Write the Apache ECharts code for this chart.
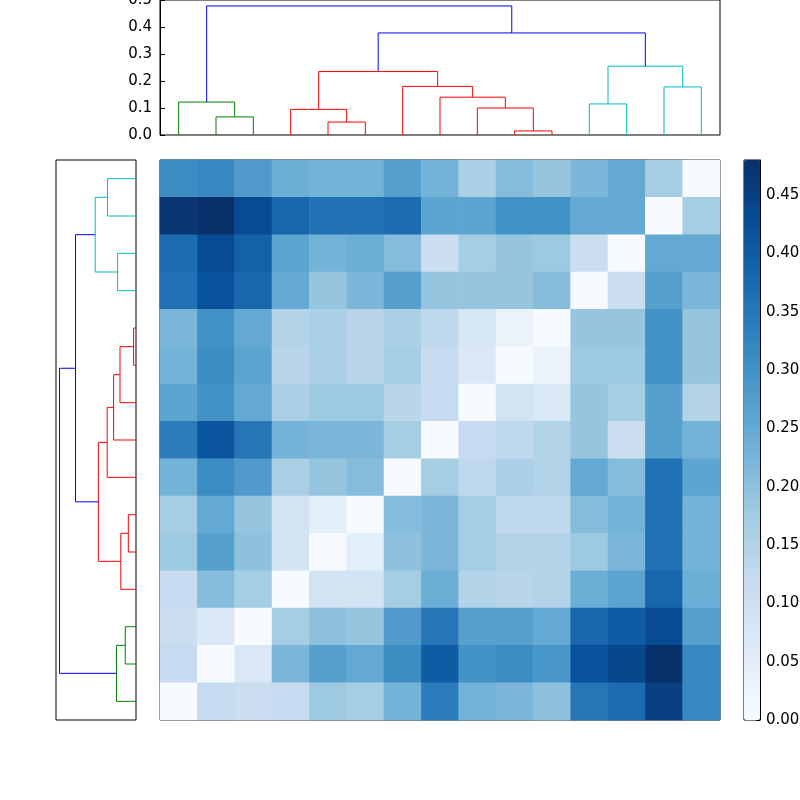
<!DOCTYPE html>
<html><head><meta charset="utf-8">
<script src="https://cdn.jsdelivr.net/npm/echarts@6/dist/echarts.min.js"></script>
<style>html,body{margin:0;padding:0;background:#fff}#c{width:800px;height:800px}</style>
</head><body><div id="c"></div>
<script>
const matrix = [
[0.31,0.32,0.28,0.24,0.23,0.23,0.27,0.23,0.16,0.21,0.19,0.22,0.25,0.17,0.00],
[0.47,0.48,0.43,0.38,0.36,0.36,0.37,0.26,0.26,0.30,0.30,0.25,0.25,0.00,0.17],
[0.37,0.43,0.39,0.26,0.23,0.24,0.21,0.11,0.17,0.19,0.18,0.11,0.00,0.25,0.25],
[0.36,0.42,0.38,0.25,0.19,0.22,0.27,0.19,0.19,0.19,0.21,0.00,0.11,0.27,0.22],
[0.22,0.30,0.25,0.15,0.16,0.14,0.16,0.13,0.08,0.03,0.00,0.19,0.19,0.30,0.19],
[0.23,0.31,0.26,0.14,0.16,0.14,0.17,0.12,0.07,0.00,0.03,0.18,0.18,0.30,0.19],
[0.26,0.30,0.25,0.16,0.18,0.18,0.14,0.12,0.00,0.09,0.07,0.19,0.17,0.27,0.15],
[0.34,0.41,0.35,0.23,0.22,0.22,0.17,0.00,0.12,0.13,0.15,0.19,0.11,0.27,0.23],
[0.23,0.31,0.28,0.16,0.19,0.21,0.00,0.17,0.13,0.16,0.15,0.25,0.21,0.36,0.26],
[0.17,0.25,0.19,0.09,0.05,0.00,0.21,0.22,0.17,0.13,0.13,0.21,0.23,0.36,0.23],
[0.18,0.27,0.20,0.09,0.00,0.05,0.20,0.22,0.17,0.15,0.15,0.18,0.22,0.36,0.23],
[0.12,0.21,0.17,0.00,0.09,0.09,0.17,0.24,0.15,0.14,0.15,0.24,0.26,0.38,0.24],
[0.11,0.07,0.00,0.17,0.20,0.19,0.28,0.35,0.27,0.27,0.25,0.38,0.40,0.43,0.27],
[0.12,0.00,0.07,0.22,0.27,0.25,0.31,0.40,0.30,0.31,0.29,0.42,0.44,0.48,0.32],
[0.00,0.12,0.11,0.12,0.18,0.17,0.23,0.34,0.23,0.22,0.20,0.35,0.37,0.45,0.32]
];
// dendrogram links: [xLeft, xRight, hLeft, hRight, h, colorKey]  (x in leaf units)
const links = [
[1,2,0,0,0.067,'g'],[0,1.5,0,0.067,0.122,'g'],
[4,5,0,0,0.048,'r'],[3,4.5,0,0.048,0.095,'r'],[9,10,0,0,0.015,'r'],[8,9.5,0,0.015,0.10,'r'],
[7,8.75,0,0.10,0.14,'r'],[6,7.875,0,0.14,0.18,'r'],[3.75,6.9375,0.095,0.18,0.235,'r'],
[11,12,0,0,0.115,'c'],[13,14,0,0,0.178,'c'],[11.5,13.5,0.115,0.178,0.255,'c'],
[5.34375,12.5,0.235,0.255,0.378,'b'],[0.75,8.921875,0.122,0.378,0.478,'b']
];
const colorKeys = {g:'#008000',r:'#ff0000',c:'#00bfbf',b:'#0000ff'};
const n = matrix.length;
const cats = matrix.map((_,i)=>String(i));
const heat = [];
matrix.forEach((row,r)=>row.forEach((v,c)=>heat.push([c,r,v])));
const series = [];
links.forEach(l=>{
  const pts=[[l[0],l[2]],[l[0],l[4]],[l[1],l[4]],[l[1],l[3]]];
  series.push({type:'line',xAxisIndex:0,yAxisIndex:0,data:pts,symbol:'none',silent:true,
    lineStyle:{color:colorKeys[l[5]],width:1}});
  series.push({type:'line',xAxisIndex:2,yAxisIndex:2,data:pts.map(p=>[p[1],p[0]]),symbol:'none',silent:true,
    lineStyle:{color:colorKeys[l[5]],width:1}});
});
series.push({type:'heatmap',xAxisIndex:1,yAxisIndex:1,data:heat,silent:true});
series.push({type:'line',xAxisIndex:3,yAxisIndex:3,data:[],silent:true});
const hidden = {show:false};
const font = {fontFamily:'DejaVu Sans',fontSize:15,color:'#000'};
const gridBase = {show:true,borderColor:'#000',borderWidth:1,outerBoundsMode:'none',containLabel:false};
const chart = echarts.init(document.getElementById('c'),null,{renderer:'canvas'});
chart.setOption({
  animation:false,
  grid:[
    Object.assign({left:160,top:0,width:560,height:135},gridBase),
    Object.assign({left:160,top:160,width:560,height:560},gridBase),
    Object.assign({left:56,top:160,width:80,height:560},gridBase),
    Object.assign({left:744,top:160,width:16,height:560},gridBase)
  ],
  xAxis:[
    {gridIndex:0,type:'value',min:-0.5,max:n-0.5,show:false},
    {gridIndex:1,type:'category',data:cats,show:false},
    {gridIndex:2,type:'value',min:0,max:0.5,inverse:true,show:false},
    {gridIndex:3,type:'value',min:0,max:1,show:false}
  ],
  yAxis:[
    {gridIndex:0,type:'value',min:0,max:0.5,interval:0.1,splitLine:hidden,
     axisLine:{show:true,onZero:false,lineStyle:{color:'#000'}},axisTick:{inside:true,lineStyle:{color:'#000'},length:5},
     axisLabel:Object.assign({formatter:v=>v.toFixed(1),margin:8},font)},
    {gridIndex:1,type:'category',data:cats,inverse:true,show:false},
    {gridIndex:2,type:'value',min:-0.5,max:n-0.5,show:false},
    {gridIndex:3,type:'value',position:'right',min:0,max:0.48,interval:0.05,splitLine:hidden,
     axisLine:{show:true,onZero:false,lineStyle:{color:'#000'}},axisTick:{inside:true,lineStyle:{color:'#000'},length:4},
     axisLabel:Object.assign({formatter:v=>(Math.abs(v*20-Math.round(v*20))<1e-6?v.toFixed(2):''),margin:6},font)}
  ],
  visualMap:{type:'continuous',min:0,max:0.48,seriesIndex:series.length-2,
    left:744,top:160,itemWidth:16,itemHeight:560,padding:0,calculable:false,text:['',''],
    showLabel:false,
    inRange:{color:['#f7fbff','#deebf7','#c6dbef','#9ecae1','#6baed6','#4292c6','#2171b5','#08519c','#08306b']}},
  series
});
</script></body></html>
